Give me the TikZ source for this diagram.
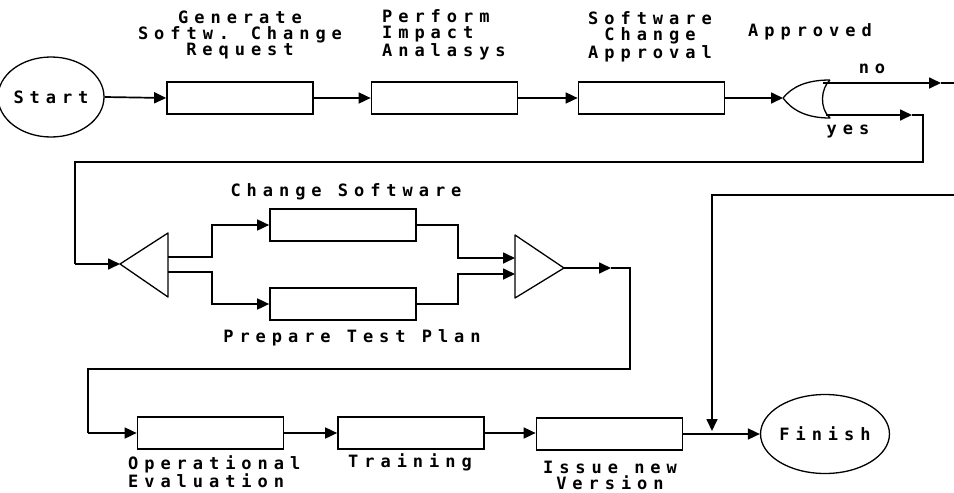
\documentclass[tikz,border=0pt]{standalone}
\usepackage{fontspec}
\usetikzlibrary{arrows.meta,shapes.geometric}
\newfontfamily\pixfont{DejaVu Sans Mono}[LetterSpace=35]
\begin{document}
\begin{tikzpicture}[x=1pt,y=-1pt,
  lbl/.style={font=\pixfont\bfseries\fontsize{17}{16}\selectfont, inner sep=0, align=center},
  box/.style={draw, line width=1.7pt, minimum width=146pt, minimum height=32pt, inner sep=0},
  term/.style={draw, ellipse, line width=1.3pt, inner sep=0, font=\pixfont\bfseries\fontsize{17}{16}\selectfont},
  con/.style={line width=1.7pt},
  arr/.style={con, -{Triangle[length=12pt,width=11pt]}},
  gate/.style={line width=1.3pt, line join=round}]
\useasboundingbox (0,0) rectangle (954,493);

% terminals
\node[term, minimum width=82pt, minimum height=80pt] (st) at (51,97) {Start};
\node[term, minimum width=104pt, minimum height=79pt] (fi) at (825,434) {Finish};

% boxes
\node[box] (b1) at (240,98) {};
\node[box] (b2) at (444.5,98) {};
\node[box] (b3) at (651.5,98) {};
\node[box] (cs) at (343,225) {};
\node[box] (pt) at (343,304) {};
\node[box] (oe) at (210.5,433) {};
\node[box] (tr) at (411,433) {};
\node[box] (iv) at (609.5,434) {};

% labels
\node[lbl] (l1) at (240,35) {Generate\\Softw. Change\\Request};
\node[lbl, align=left, anchor=west] (l2) at (382,35) {Perform\\Impact\\Analasys};
\node[lbl] (l3) at (650,37) {Software\\Change\\Approval};
\node[lbl] (l4) at (810,32) {Approved};
\node[lbl] (lno) at (872,69) {no};
\node[lbl] (lyes) at (848,131) {yes};
\node[lbl] (l5) at (346,192) {Change Software};
\node[lbl] (l6) at (352,338) {Prepare Test Plan};
\node[lbl, align=left, anchor=west] (l7) at (128,472) {Operational\\Evaluation};
\node[lbl] (l8) at (410,462) {Training};
\node[lbl] (l9) at (610,475) {Issue new\\Version};

% OR gate (decision)
\coordinate (gtip) at (783,98);
\coordinate (gno) at (823,83);
\coordinate (gyes) at (826,115);
\draw[gate] (830,80) .. controls (821,88) and (819,108) .. (830,118)
  .. controls (806,118) and (792,110) .. (gtip)
  .. controls (792,87) and (806,80) .. (830,80);

% split triangle
\coordinate (sptip) at (120,264);
\coordinate (spu) at (168,257);
\coordinate (spl) at (168,272);
\draw[gate] (sptip) -- (168,233) -- (168,297) -- cycle;

% join triangle
\coordinate (jtip) at (564,268);
\coordinate (jnu) at (515,258);
\coordinate (jnl) at (515,274);
\draw[gate] (515,235) -- (jtip) -- (515,298) -- cycle;

% helper coordinates
\coordinate (noarr) at (941,83);
\coordinate (noend) at (954,83);
\coordinate (yesarr) at (912,115);
\coordinate (joarr) at (611,268);
\coordinate (finin) at (954,195);
\coordinate (jn) at (712,431);

% connectors
\draw[arr] (st.east) -- (b1.west);
\draw[arr] (b1.east) -- (b2.west);
\draw[arr] (b2.east) -- (b3.west);
\draw[arr] (b3.east) -- (gtip);
\draw[arr] (gno) -- (noarr);
\draw[con] (noarr) -- (noend);
\draw[arr] (gyes) -- (yesarr);
\draw[con] (yesarr) -- (923,115) -- (923,162) -- (75,162) -- (75,264);
\draw[arr] (75,264) -- (sptip);
\draw[arr] (spu) -- (212,257) |- (cs.west);
\draw[arr] (spl) -- (212,272) |- (pt.west);
\draw[arr] (cs.east) -- (458,225) |- (jnu);
\draw[arr] (pt.east) -- (458,304) |- (jnl);
\draw[arr] (jtip) -- (joarr);
\draw[con] (joarr) -- (630,268) -- (630,369) -- (88,369) -- (88,433);
\draw[arr] (88,433) -- (oe.west);
\draw[arr] (oe.east) -- (tr.west);
\draw[arr] (tr.east) -- (tr.east -| iv.west);
\draw[arr] (iv.east) -- (iv.east -| fi.west);
\draw[arr] (finin) -| (jn);
\end{tikzpicture}
\end{document}
